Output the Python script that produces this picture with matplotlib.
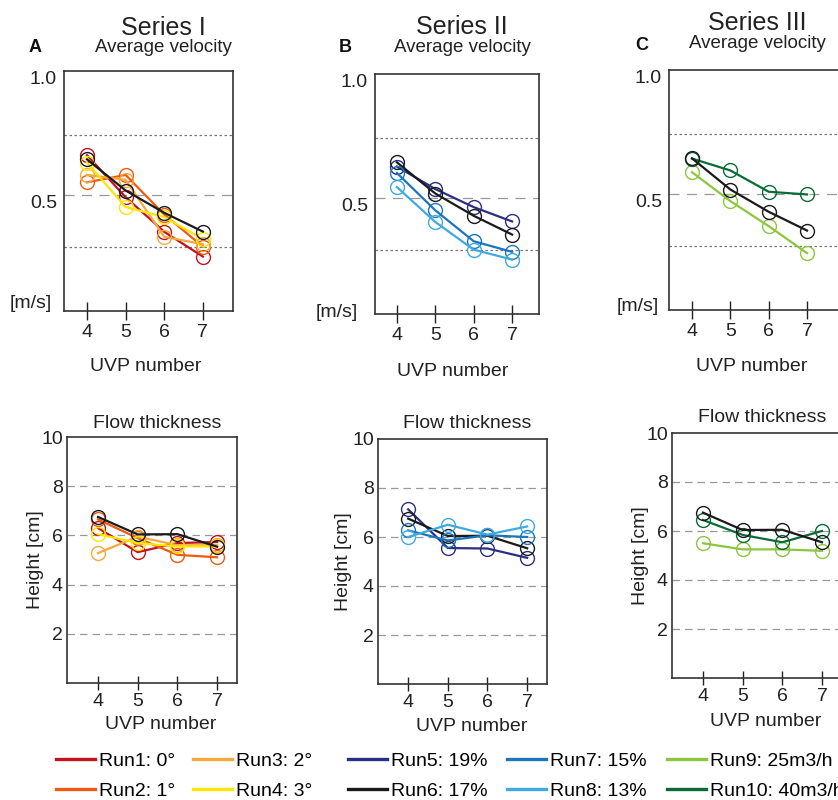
import matplotlib
matplotlib.use("Agg")
import matplotlib.pyplot as plt
from matplotlib.lines import Line2D

plt.rcParams["font.family"] = ["Liberation Sans", "DejaVu Sans"]

uvp = [4, 5, 6, 7]

run_names = ["Run1: 0°", "Run2: 1°", "Run3: 2°", "Run4: 3°", "Run5: 19%",
             "Run6: 17%", "Run7: 15%", "Run8: 13%", "Run9: 25m3/h", "Run10: 40m3/h"]
run_colors = ["#c1121f", "#ee5a13", "#f6a93b", "#ffe500", "#2b2e83",
              "#1a1a1a", "#1b75bb", "#3fa9e0", "#8cc63e", "#0b6b36"]

# average velocity [m/s]
vel = {
    "Run1": [0.66, 0.49, 0.35, 0.25],
    "Run2": [0.55, 0.58, 0.42, 0.29],
    "Run3": [0.58, 0.56, 0.33, 0.30],
    "Run4": [0.63, 0.45, 0.41, 0.32],
    "Run5": [0.626, 0.535, 0.462, 0.404],
    "Run6": [0.643, 0.517, 0.427, 0.351],
    "Run7": [0.60, 0.449, 0.324, 0.281],
    "Run8": [0.543, 0.402, 0.29, 0.25],
    "Run9": [0.587, 0.47, 0.369, 0.26],
    "Run10": [0.642, 0.594, 0.508, 0.497],
}

# flow thickness [cm]
height = {
    "Run1": [6.30, 5.32, 5.69, 5.73],
    "Run2": [6.65, 5.89, 5.21, 5.11],
    "Run3": [5.28, 5.95, 5.60, 5.60],
    "Run4": [6.05, 5.69, 5.55, 5.55],
    "Run5": [7.13, 5.55, 5.53, 5.15],
    "Run6": [6.75, 6.04, 6.05, 5.54],
    "Run7": [6.27, 5.86, 6.07, 6.00],
    "Run8": [6.00, 6.50, 6.10, 6.43],
    "Run9": [5.50, 5.25, 5.25, 5.19],
    "Run10": [6.45, 5.84, 5.54, 6.00],
}

series_runs = [
    ["Run1", "Run2", "Run3", "Run4", "Run6"],
    ["Run5", "Run6", "Run7", "Run8"],
    ["Run9", "Run10", "Run6"],
]
series_titles = ["Series I", "Series II", "Series III"]
panel_letters = ["A", "B", "C"]

color_of = {n.split(":")[0]: c for n, c in zip(run_names, run_colors)}

W, H = 838, 800
fig = plt.figure(figsize=(W / 100, H / 100), dpi=100)


def box(l, t, r, b):
    return [l / W, 1 - b / H, (r - l) / W, (b - t) / H]


def px(x, y):
    return x / W, 1 - y / H


# pixel boxes (left, top, right, bottom) and x limits
top_boxes = [(64, 71, 233, 311), (375, 74, 539, 314), (669, 70, 845, 310)]
top_xlim = [(3.405, 7.78), (3.43, 7.70), (3.40, 7.99)]
bot_boxes = [(67, 437, 237, 683), (378, 439, 547, 684), (672, 433, 845, 678)]
bot_xlim = [(3.22, 7.5), (3.24, 7.5), (3.22, 7.58)]

series_pos = [(163, 28), (462, 27), (757, 23)]
avg_pos = [(163, 47), (462, 47), (757, 43)]
letter_pos = [(35, 47), (345, 47), (642, 45)]
flow_pos = [(157, 423), (467, 423), (762, 418)]
top_xlab = [(0.485, -0.196), (0.476, -0.204), (0.47, -0.2)]
bot_xlab = [(0.55, -0.134), (0.556, -0.139), (0.54, -0.143)]
ylab_x = [-0.135, -0.154, -0.133]
ms_pos = [(-0.071, 0.033), (-0.104, 0.008), (-0.057, 0.0125)]

spine_col = "#333333"

for i in range(3):
    runs = series_runs[i]

    # ---- top: average velocity ----
    ax = fig.add_axes(box(*top_boxes[i]))
    for r in runs:
        ax.plot(uvp, vel[r], color=color_of[r], lw=1.6, marker="o", ms=10,
                mfc="none", mew=1.0, zorder=3)
    ax.axhline(0.5, color="#999999", lw=0.9, ls=(0, (8, 6)), zorder=1)
    for g in [0.74, 0.29]:
        ax.axhline(g, color="#777777", lw=0.9, ls=(0, (2, 2)), zorder=1)
    ax.set_xlim(*top_xlim[i])
    ax.set_ylim(0.03, 1.0)
    ax.set_xticks(uvp)
    ax.set_yticks([0.5, 1.0])
    ax.set_yticklabels(["0.5", "1.0"], va="top")
    ax.tick_params(axis="x", direction="inout", length=13, width=1.0,
                   labelsize=14, pad=3, colors="#222222")
    ax.tick_params(axis="y", length=0, labelsize=14, pad=5, colors="#222222")
    for s in ax.spines.values():
        s.set_color(spine_col)
        s.set_linewidth(1.2)
    ax.set_xlabel("UVP number", fontsize=14, color="#222222")
    ax.xaxis.set_label_coords(*top_xlab[i])
    ax.text(ms_pos[i][0], ms_pos[i][1], "[m/s]", transform=ax.transAxes,
            ha="right", va="center", fontsize=14, color="#222222")

    fig.text(*px(*series_pos[i]), series_titles[i], ha="center", va="center",
             fontsize=18, color="#222222")
    fig.text(*px(*avg_pos[i]), "Average velocity", ha="center", va="center",
             fontsize=13.5, color="#222222")
    fig.text(*px(*letter_pos[i]), panel_letters[i], ha="center", va="center",
             fontsize=13, fontweight="bold", color="#111111")

    # ---- bottom: flow thickness ----
    ax2 = fig.add_axes(box(*bot_boxes[i]))
    for r in runs:
        ax2.plot(uvp, height[r], color=color_of[r], lw=1.6, marker="o", ms=10,
                 mfc="none", mew=1.0, zorder=3)
    for g in [2, 4, 6, 8]:
        ax2.axhline(g, color="#999999", lw=0.9, ls=(0, (6, 4)), zorder=1)
    ax2.set_xlim(*bot_xlim[i])
    ax2.set_ylim(0, 10)
    ax2.set_xticks(uvp)
    ax2.set_yticks([2, 4, 6, 8, 10])
    ax2.tick_params(axis="x", direction="inout", length=10, width=1.0,
                    labelsize=14, pad=2, colors="#222222")
    ax2.tick_params(axis="y", length=0, labelsize=14, pad=3, colors="#222222")
    for s in ax2.spines.values():
        s.set_color(spine_col)
        s.set_linewidth(1.2)
    ax2.set_xlabel("UVP number", fontsize=14, color="#222222")
    ax2.xaxis.set_label_coords(*bot_xlab[i])
    ax2.set_ylabel("Height [cm]", fontsize=14, color="#222222")
    ax2.yaxis.set_label_coords(ylab_x[i], 0.5)
    fig.text(*px(*flow_pos[i]), "Flow thickness", ha="center", va="center",
             fontsize=14, color="#222222")

# legend, five columns of two entries
leg_cols = [[0, 1], [2, 3], [4, 5], [6, 7], [8, 9]]
leg_x = [56, 193, 348, 507, 667]
for col, x in zip(leg_cols, leg_x):
    handles = [Line2D([], [], color=run_colors[k], lw=2.4) for k in col]
    labels = [run_names[k] for k in col]
    fig.legend(handles, labels, loc="upper left", bbox_to_anchor=px(x, 752),
               frameon=False, fontsize=14, handlelength=2.0,
               handletextpad=0.2, labelspacing=0.65, borderpad=0,
               borderaxespad=0)

fig.savefig("out.png", dpi=100)
